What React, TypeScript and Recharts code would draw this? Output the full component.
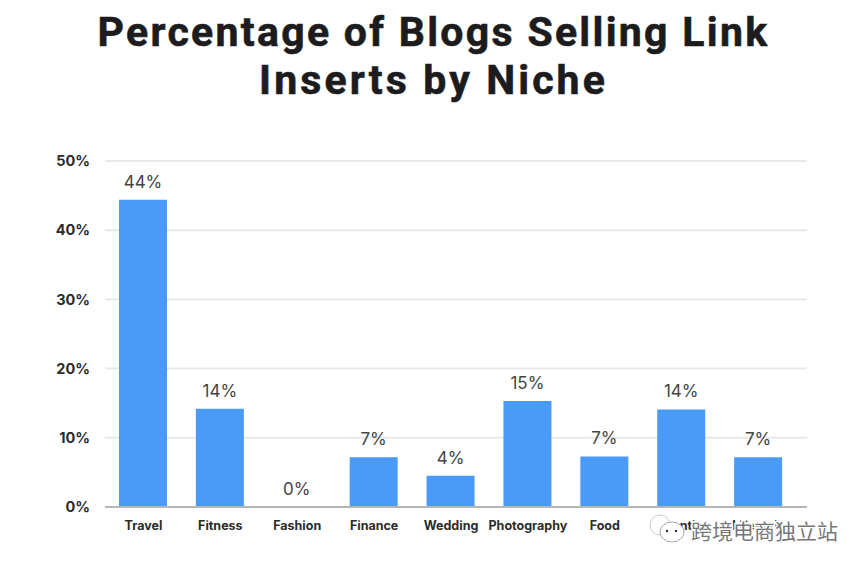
import { BarChart, Bar, XAxis, YAxis, CartesianGrid, LabelList } from "recharts";

const niches = ["Travel", "Fitness", "Fashion", "Finance", "Wedding", "Photography", "Food", "Parenting", "Lifestyle"];
const shares = [44.4, 14.2, 0, 7.2, 4.5, 15.3, 7.3, 14.1, 7.2];
const shareLabels = ["44%", "14%", "0%", "7%", "4%", "15%", "7%", "14%", "7%"];
const yTicks = [0, 10, 20, 30, 40, 50];
const titleLines = ["Percentage of Blogs Selling Link", "Inserts by Niche"];
const titleSpacing = [2.3, 3.1];
const watermark = "跨境电商独立站";

const data = niches.map((niche, i) => ({ niche, share: shares[i], label: shareLabels[i] }));

const App = () => {
  return (
    <div style={{ position: "absolute", left: 0, top: 0, width: 865, height: 566, background: "#fff", overflow: "hidden" }}>
      <div
        style={{
          position: "absolute",
          left: 0,
          top: 8,
          width: 867,
          textAlign: "center",
          fontFamily: "Roboto, sans-serif",
          fontWeight: 700,
          fontSize: 41,
          lineHeight: "48px",
          color: "#1c1c1e",
          WebkitTextStroke: "0.6px #1c1c1e",
        }}
      >
        {titleLines.map((line, i) => (
          <div key={line} style={{ letterSpacing: titleSpacing[i] }}>{line}</div>
        ))}
      </div>
      <div style={{ position: "absolute", left: 0, top: 0 }}>
        <BarChart width={865} height={566} data={data} margin={{ top: 161, right: 58, bottom: 29, left: 50 }}>
          <CartesianGrid vertical={false} stroke="#e9e9ec" strokeWidth={2} />
          <XAxis
            dataKey="niche"
            interval={0}
            padding={{ left: 0, right: 10 }}
            tickLine={false}
            axisLine={{ stroke: "#b5b5b5", strokeWidth: 2 }}
            tick={{ fill: "#2b2b2b", fontSize: 12.5, fontWeight: 700, fontFamily: "Inter, sans-serif" }}
            tickMargin={8}
          />
          <YAxis
            domain={[0, 50]}
            ticks={yTicks}
            width={55}
            axisLine={false}
            tickLine={false}
            tickFormatter={(v) => `${v}%`}
            tick={{ fill: "#2b2b2b", fontSize: 14.5, fontWeight: 700, fontFamily: "Inter, sans-serif", dx: -9 }}
            tickMargin={0}
          />
          <Bar dataKey="share" fill="#4a9bf7" barSize={48} minPointSize={0.01} isAnimationActive={false}>
            <LabelList
              dataKey="label"
              position="top"
              offset={12}
              fill="#444"
              style={{ fontSize: 17, fontFamily: "Inter, sans-serif" }}
            />
          </Bar>
        </BarChart>
      </div>
      <svg width={865} height={566} style={{ position: "absolute", left: 0, top: 0 }}>
        <g fill="#fff" stroke="#aaa" strokeWidth={1}>
          <ellipse cx={660} cy={525} rx={10} ry={10} stroke="#ccc" />
          <ellipse cx={672} cy={532} rx={12} ry={10} />
        </g>
        <circle cx={667} cy={531} r={1.2} fill="#333" />
        <circle cx={676} cy={531} r={1.2} fill="#333" />
      </svg>
      <div
        style={{
          position: "absolute",
          left: 691,
          top: 517,
          fontFamily: "'Noto Sans CJK SC', sans-serif",
          fontSize: 21,
          lineHeight: "26px",
          color: "#777",
          WebkitTextStroke: "3px #fff",
          paintOrder: "stroke fill",
        }}
      >
        {watermark}
      </div>
    </div>
  );
};

export default App;
